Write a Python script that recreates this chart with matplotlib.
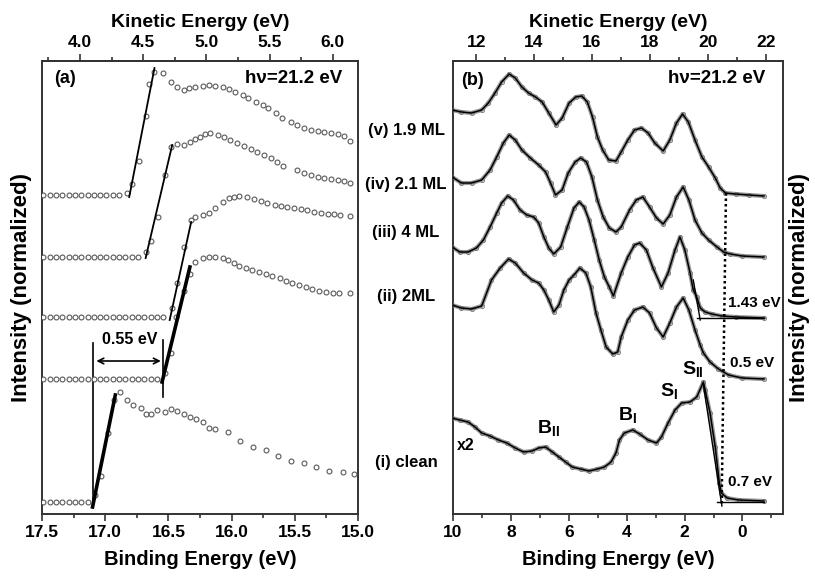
import matplotlib
matplotlib.use("Agg")
import matplotlib.pyplot as plt
from matplotlib.ticker import MultipleLocator, FixedLocator, FormatStrFormatter

plt.rcParams['font.family'] = ['Liberation Sans', 'DejaVu Sans']
plt.rcParams['font.weight'] = 'bold'
plt.rcParams['axes.labelweight'] = 'bold'
plt.rcParams['mathtext.fontset'] = 'custom'
plt.rcParams['mathtext.rm'] = 'Liberation Sans:bold'
plt.rcParams['mathtext.bf'] = 'Liberation Sans:bold'

hv = 21.2   # photon energy, KE = hv - BE

# ---- panel (a): secondary electron cutoff, open circles ----
a_v_be = [17.49, 17.44, 17.39, 17.34, 17.29, 17.24, 17.19, 17.14, 17.09, 17.04, 16.99, 16.94, 16.89, 16.83,
          16.79, 16.73, 16.68, 16.65, 16.61, 16.54, 16.48, 16.43, 16.38, 16.34, 16.29, 16.23, 16.18, 16.13,
          16.07, 16.02, 15.97, 15.91, 15.87, 15.81, 15.75, 15.71, 15.65, 15.60, 15.53, 15.48, 15.43, 15.37,
          15.32, 15.27, 15.21, 15.16, 15.11, 15.06]
a_v_y = [3.19, 3.19, 3.19, 3.19, 3.19, 3.19, 3.19, 3.19, 3.19, 3.19, 3.19, 3.19, 3.19, 3.21,
         3.30, 3.53, 3.98, 4.30, 4.42, 4.41, 4.32, 4.27, 4.24, 4.26, 4.27, 4.28, 4.29, 4.28,
         4.27, 4.25, 4.22, 4.19, 4.16, 4.12, 4.09, 4.06, 4.01, 3.96, 3.92, 3.89, 3.86, 3.84,
         3.83, 3.82, 3.81, 3.80, 3.78, 3.73]

a_iv_be = [17.49, 17.44, 17.39, 17.34, 17.29, 17.24, 17.19, 17.14, 17.09, 17.04, 16.99, 16.94, 16.89, 16.84,
           16.79, 16.74, 16.68, 16.64, 16.58, 16.53, 16.48, 16.43, 16.38, 16.33, 16.29, 16.25, 16.21, 16.17,
           16.11, 16.06, 16.01, 15.96, 15.90, 15.85, 15.80, 15.74, 15.69, 15.64, 15.59, 15.48, 15.43, 15.37,
           15.32, 15.27, 15.21, 15.16, 15.11, 15.06]
a_iv_y = [2.57, 2.57, 2.57, 2.57, 2.57, 2.57, 2.57, 2.57, 2.57, 2.57, 2.57, 2.57, 2.57, 2.57,
          2.57, 2.57, 2.62, 2.73, 2.97, 3.39, 3.67, 3.70, 3.69, 3.72, 3.75, 3.77, 3.80, 3.81,
          3.79, 3.77, 3.74, 3.71, 3.68, 3.65, 3.62, 3.59, 3.56, 3.52, 3.48, 3.44, 3.41, 3.39,
          3.37, 3.36, 3.35, 3.34, 3.33, 3.31]

a_iii_be = [17.49, 17.44, 17.39, 17.34, 17.29, 17.24, 17.19, 17.14, 17.09, 17.04, 16.99, 16.94, 16.89, 16.84,
            16.79, 16.74, 16.69, 16.64, 16.59, 16.54, 16.47, 16.43, 16.38, 16.32, 16.29, 16.23, 16.18, 16.13,
            16.07, 16.02, 15.98, 15.94, 15.88, 15.82, 15.77, 15.72, 15.66, 15.61, 15.56, 15.51, 15.45, 15.40,
            15.35, 15.29, 15.24, 15.19, 15.14, 15.06]
a_iii_y = [1.97, 1.97, 1.97, 1.97, 1.97, 1.97, 1.97, 1.97, 1.97, 1.97, 1.97, 1.97, 1.97, 1.97,
           1.97, 1.97, 1.97, 1.97, 1.97, 1.97, 2.06, 2.31, 2.67, 2.94, 2.97, 2.99, 3.01, 3.06,
           3.12, 3.16, 3.17, 3.18, 3.17, 3.15, 3.13, 3.11, 3.09, 3.08, 3.07, 3.06, 3.05, 3.04,
           3.02, 3.01, 3.00, 3.00, 2.99, 2.98]

a_ii_be = [17.49, 17.44, 17.39, 17.34, 17.29, 17.24, 17.19, 17.14, 17.09, 17.04, 16.99, 16.94, 16.89, 16.84,
           16.79, 16.74, 16.69, 16.64, 16.59, 16.53, 16.48, 16.44, 16.38, 16.33, 16.29, 16.23, 16.18, 16.13,
           16.07, 16.03, 15.98, 15.94, 15.89, 15.84, 15.78, 15.73, 15.68, 15.62, 15.57, 15.52, 15.47, 15.41,
           15.36, 15.31, 15.25, 15.20, 15.15, 15.06]
a_ii_y = [1.35, 1.35, 1.35, 1.35, 1.35, 1.35, 1.35, 1.35, 1.35, 1.35, 1.35, 1.35, 1.35, 1.35,
          1.35, 1.35, 1.35, 1.35, 1.35, 1.41, 1.61, 1.97, 2.23, 2.40, 2.52, 2.56, 2.57, 2.57,
          2.56, 2.54, 2.51, 2.48, 2.46, 2.44, 2.42, 2.40, 2.38, 2.36, 2.33, 2.31, 2.29, 2.27,
          2.25, 2.23, 2.22, 2.21, 2.21, 2.21]

a_i_be = [17.49, 17.44, 17.39, 17.34, 17.29, 17.24, 17.19, 17.14, 17.08, 17.03, 16.98, 16.93, 16.88, 16.83,
          16.78, 16.72, 16.68, 16.64, 16.59, 16.53, 16.48, 16.43, 16.38, 16.33, 16.28, 16.23, 16.18, 16.13,
          16.03, 15.93, 15.83, 15.73, 15.63, 15.53, 15.43, 15.33, 15.23, 15.12, 15.03]
a_i_y = [0.12, 0.12, 0.12, 0.12, 0.12, 0.12, 0.12, 0.12, 0.19, 0.38, 0.81, 1.14, 1.22, 1.14,
         1.09, 1.06, 1.00, 1.00, 1.04, 1.02, 1.05, 1.03, 1.00, 0.97, 0.95, 0.92, 0.86, 0.85,
         0.82, 0.73, 0.67, 0.64, 0.58, 0.53, 0.51, 0.47, 0.43, 0.42, 0.40]

# linear fits of the cutoff edges: (be0, be1), (y0, y1), width
a_fits = [((16.81, 16.61), (3.17, 4.46), 1.3),
          ((16.68, 16.47), (2.56, 3.69), 1.3),
          ((16.49, 16.32), (1.94, 2.92), 1.3),
          ((16.55, 16.33), (1.32, 2.47), 2.6),
          ((17.10, 16.92), (0.07, 1.19), 2.6)]

# ---- panel (b): valence band spectra ----
b_v_be = [10.03, 9.71, 9.36, 9.01, 8.78, 8.55, 8.32, 8.06, 7.85, 7.62, 7.39, 7.15, 6.92, 6.69, 6.44,
          6.23, 5.99, 5.76, 5.55, 5.36, 5.18, 5.01, 4.83, 4.62, 4.37, 4.19, 3.96, 3.73, 3.49, 3.26,
          3.03, 2.74, 2.51, 2.28, 2.07, 1.87, 1.64, 1.40, 1.17, 0.94, 0.77, 0.59, 0.24, -0.22, -0.74]
b_v_y = [4.04, 4.02, 4.01, 4.04, 4.11, 4.21, 4.32, 4.40, 4.36, 4.27, 4.21, 4.17, 4.12, 4.01, 3.89,
         3.96, 4.11, 4.17, 4.18, 4.12, 3.97, 3.77, 3.64, 3.54, 3.53, 3.62, 3.74, 3.84, 3.86, 3.81,
         3.71, 3.63, 3.74, 3.91, 4.00, 3.92, 3.74, 3.57, 3.47, 3.36, 3.26, 3.21, 3.20, 3.19, 3.18]

b_iv_be = [10.03, 9.71, 9.36, 9.01, 8.72, 8.49, 8.26, 8.06, 7.85, 7.62, 7.33, 7.04, 6.80, 6.63, 6.46,
           6.23, 6.02, 5.78, 5.59, 5.39, 5.20, 5.01, 4.81, 4.60, 4.37, 4.19, 3.90, 3.67, 3.44, 3.21,
           2.97, 2.74, 2.51, 2.28, 2.05, 1.85, 1.64, 1.40, 1.17, 0.88, 0.65, 0.42, 0.01, -0.74]
b_iv_y = [3.37, 3.31, 3.31, 3.34, 3.44, 3.57, 3.71, 3.79, 3.74, 3.64, 3.56, 3.49, 3.42, 3.31, 3.19,
          3.24, 3.41, 3.52, 3.56, 3.52, 3.37, 3.14, 2.97, 2.86, 2.82, 2.87, 3.04, 3.14, 3.17, 3.07,
          2.96, 2.90, 2.99, 3.17, 3.27, 3.14, 2.94, 2.81, 2.74, 2.67, 2.62, 2.60, 2.58, 2.57]

b_iii_be = [10.03, 9.77, 9.48, 9.19, 8.95, 8.72, 8.49, 8.32, 8.11, 7.91, 7.68, 7.45, 7.21, 7.04, 6.86,
            6.69, 6.52, 6.28, 6.05, 5.82, 5.64, 5.47, 5.30, 5.12, 4.95, 4.77, 4.60, 4.46, 4.19, 3.96,
            3.73, 3.55, 3.32, 3.09, 2.80, 2.57, 2.33, 2.16, 1.99, 1.81, 1.70, 1.58, 1.46, 1.29, 1.06,
            0.71, 0.24, -0.74]
b_iii_y = [2.67, 2.62, 2.62, 2.66, 2.74, 2.87, 3.01, 3.11, 3.18, 3.14, 3.04, 2.99, 2.97, 2.91, 2.77,
           2.66, 2.60, 2.67, 2.87, 3.06, 3.12, 3.07, 2.94, 2.74, 2.54, 2.37, 2.27, 2.18, 2.41, 2.57,
           2.69, 2.71, 2.64, 2.46, 2.27, 2.41, 2.64, 2.77, 2.64, 2.41, 2.24, 2.17, 2.06, 2.02, 2.00,
           1.98, 1.97, 1.96]

b_ii_be = [10.03, 9.71, 9.36, 9.01, 8.67, 8.37, 8.08, 7.85, 7.56, 7.27, 7.04, 6.86, 6.69, 6.52, 6.34,
           6.17, 5.99, 5.82, 5.62, 5.41, 5.24, 5.06, 4.89, 4.71, 4.48, 4.31, 4.19, 3.96, 3.73, 3.44,
           3.21, 2.97, 2.74, 2.51, 2.28, 2.05, 1.85, 1.64, 1.46, 1.35, 1.12, 0.83, 0.48, 0.01, -0.74]
b_ii_y = [2.09, 2.06, 2.05, 2.08, 2.34, 2.46, 2.55, 2.51, 2.41, 2.34, 2.31, 2.24, 2.14, 2.02, 2.09,
          2.24, 2.34, 2.39, 2.46, 2.41, 2.27, 2.01, 1.84, 1.67, 1.60, 1.62, 1.77, 1.94, 2.04, 2.07,
          2.01, 1.86, 1.77, 1.91, 2.07, 2.16, 2.04, 1.84, 1.69, 1.61, 1.52, 1.45, 1.39, 1.36, 1.35]

b_i_be = [10.03, 9.77, 9.48, 9.24, 9.01, 8.72, 8.43, 8.14, 7.85, 7.56, 7.27, 7.04, 6.80, 6.57, 6.34,
          6.11, 5.88, 5.59, 5.30, 5.01, 4.77, 4.54, 4.37, 4.25, 4.08, 3.79, 3.55, 3.26, 2.97, 2.80,
          2.57, 2.33, 2.10, 1.81, 1.58, 1.35, 1.29, 1.12, 0.94, 0.80, 0.73, 0.53, 0.13, -0.74]
b_i_y = [0.96, 0.94, 0.92, 0.87, 0.81, 0.78, 0.74, 0.71, 0.66, 0.62, 0.63, 0.66, 0.67, 0.62, 0.57,
         0.52, 0.47, 0.45, 0.43, 0.45, 0.47, 0.52, 0.61, 0.74, 0.81, 0.84, 0.80, 0.74, 0.71, 0.77,
         0.91, 1.04, 1.11, 1.12, 1.17, 1.32, 1.24, 1.01, 0.67, 0.31, 0.21, 0.16, 0.14, 0.13]

ke_ticks_a = [4.0, 4.5, 5.0, 5.5, 6.0]
ke_ticks_b = [12, 14, 16, 18, 20, 22]

curve_labels = ['(v) 1.9 ML', '(iv) 2.1 ML', '(iii) 4 ML', '(ii) 2ML', '(i) clean']
label_fig_y = [130, 185, 233, 297, 462]     # pixel rows of the labels between panels

W, H = 815, 579
fig = plt.figure(figsize=(W / 100, H / 100), dpi=100)
axa = fig.add_axes([42 / W, 65 / H, 316 / W, 453 / H])
axb = fig.add_axes([453 / W, 65 / H, 330 / W, 453 / H])

spine_c = '#333333'

def style(ax):
    for s in ax.spines.values():
        s.set_linewidth(1.4)
        s.set_color(spine_c)
    ax.set_yticks([])
    ax.tick_params(axis='x', which='both', direction='out', labelsize=12.5, width=1.2, color=spine_c)
    ax.tick_params(axis='x', which='major', length=5, pad=3)
    ax.tick_params(axis='x', which='minor', length=3)

def style_top(sec):
    sec.tick_params(axis='x', which='both', direction='out', labelsize=12.5, width=1.2, color=spine_c)
    sec.tick_params(axis='x', which='major', length=5, pad=3)
    sec.tick_params(axis='x', which='minor', length=3)
    sec.spines['top'].set_linewidth(1.4)
    sec.spines['top'].set_color(spine_c)
    sec.set_xlabel('Kinetic Energy (eV)', fontsize=14, labelpad=6)

# panel a
for be, y in [(a_v_be, a_v_y), (a_iv_be, a_iv_y), (a_iii_be, a_iii_y), (a_ii_be, a_ii_y), (a_i_be, a_i_y)]:
    axa.plot(be, y, 'o', ms=3.5, mfc='white', mec='0.35', mew=0.8, zorder=3)
for xs, ys, lw in a_fits:
    axa.plot(xs, ys, '-', color='black', lw=lw, zorder=4)
axa.plot([17.10, 17.10], [0.07, 1.71], color='black', lw=1.2)
axa.plot([16.545, 16.545], [1.17, 1.74], color='black', lw=1.2)
axa.annotate('', xy=(16.56, 1.53), xytext=(17.07, 1.53),
             arrowprops=dict(arrowstyle='<->', color='black', lw=1.2, shrinkA=0, shrinkB=0))
axa.text(16.81, 1.74, '0.55 eV', ha='center', va='center', fontsize=11.5)
axa.text(0.073, 0.962, '(a)', transform=axa.transAxes, ha='center', va='center', fontsize=13)
axa.text(0.797, 0.962, 'h\u03bd=21.2 eV', transform=axa.transAxes, ha='center', va='center', fontsize=13.5)

axa.set_xlim(17.5, 15.0)
axa.set_ylim(0, 4.53)
style(axa)
axa.xaxis.set_major_locator(MultipleLocator(0.5))
axa.xaxis.set_minor_locator(MultipleLocator(0.25))
axa.xaxis.set_major_formatter(FormatStrFormatter('%.1f'))
axa.set_xlabel('Binding Energy (eV)', fontsize=14.5, labelpad=7)
axa.set_ylabel('Intensity (normalized)', fontsize=16, labelpad=7)

seca = axa.secondary_xaxis('top', functions=(lambda x: hv - x, lambda x: hv - x))
seca.xaxis.set_major_locator(FixedLocator(ke_ticks_a))
seca.xaxis.set_minor_locator(MultipleLocator(0.25))
seca.xaxis.set_major_formatter(FormatStrFormatter('%.1f'))
style_top(seca)

# panel b
for be, y in [(b_v_be, b_v_y), (b_iv_be, b_iv_y), (b_iii_be, b_iii_y), (b_ii_be, b_ii_y), (b_i_be, b_i_y)]:
    axb.plot(be, y, '-', color='0.6', lw=3.0, solid_capstyle='round', zorder=2)
    axb.plot(be, y, 'o', ms=3.0, mfc='none', mec='0.45', mew=0.6, zorder=3)
    axb.plot(be, y, '-', color='black', lw=1.1, zorder=4)

# onset constructions
axb.plot([1.70, 1.46], [2.34, 1.94], color='black', lw=1.0, zorder=5)
axb.plot([1.58, -0.74], [1.96, 1.96], color='black', lw=1.0, zorder=5)
axb.plot([1.35, 0.71], [1.29, 0.08], color='black', lw=1.0, zorder=5)
axb.plot([0.88, -0.74], [0.12, 0.12], color='black', lw=1.0, zorder=5)
axb.plot([0.57, 0.72], [3.21, 0.09], color='black', lw=1.8, ls=(0, (1, 1.2)), zorder=5)

axb.text(0.49, 2.11, '1.43 eV', ha='left', va='center', fontsize=11)
axb.text(0.42, 1.51, '0.5 eV', ha='left', va='center', fontsize=11)
axb.text(0.49, 0.32, '0.7 eV', ha='left', va='center', fontsize=11)
axb.text(9.55, 0.69, 'x2', ha='center', va='center', fontsize=11.5)
axb.text(6.69, 0.86, r'$\mathbf{B_{II}}$', ha='center', va='center', fontsize=14)
axb.text(3.97, 0.99, r'$\mathbf{B_{I}}$', ha='center', va='center', fontsize=14)
axb.text(2.54, 1.23, r'$\mathbf{S_{I}}$', ha='center', va='center', fontsize=14)
axb.text(1.71, 1.45, r'$\mathbf{S_{II}}$', ha='center', va='center', fontsize=14)
axb.text(0.058, 0.958, '(b)', transform=axb.transAxes, ha='center', va='center', fontsize=13)
axb.text(0.80, 0.962, 'h\u03bd=21.2 eV', transform=axb.transAxes, ha='center', va='center', fontsize=13.5)

axb.set_xlim(10.0, -1.4)
axb.set_ylim(0, 4.53)
style(axb)
axb.xaxis.set_major_locator(MultipleLocator(2))
axb.xaxis.set_minor_locator(MultipleLocator(1))
axb.set_xlabel('Binding Energy (eV)', fontsize=14.5, labelpad=7)
axb.yaxis.set_label_position('right')
axb.set_ylabel('Intensity (normalized)', fontsize=16, rotation=90, labelpad=4)

secb = axb.secondary_xaxis('top', functions=(lambda x: hv - x, lambda x: hv - x))
secb.xaxis.set_major_locator(FixedLocator(ke_ticks_b))
secb.xaxis.set_minor_locator(MultipleLocator(1))
style_top(secb)

# sample labels between the panels
for lab, py in zip(curve_labels, label_fig_y):
    fig.text(406 / W, 1 - py / H, lab, ha='center', va='center', fontsize=12)

fig.savefig('out.png', dpi=100)
